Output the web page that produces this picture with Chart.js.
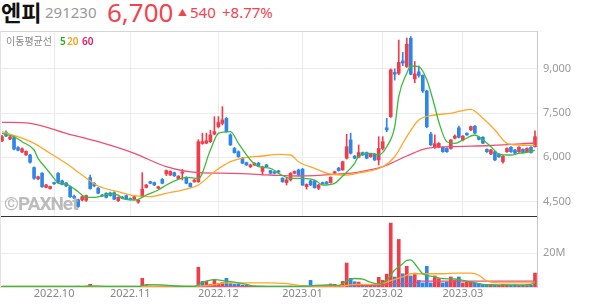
<!DOCTYPE html>
<html lang="ko">
<head>
<meta charset="utf-8">
<title>엔피 291230</title>
<script src="https://cdn.jsdelivr.net/npm/chart.js@4.4.0/dist/chart.umd.min.js"></script>
<style>
  body { margin: 0; width: 594px; height: 304px; background: #fff; overflow: hidden; position: relative; font-family: "Noto Sans", "Noto Sans CJK KR", sans-serif; }
  .abs { position: absolute; white-space: nowrap; line-height: 1; }
  #name { left: 1px; top: 0px; font-size: 22px; font-weight: 700; color: #111; font-family: "Noto Sans CJK KR", sans-serif; }
  #code { left: 45px; top: 5px; font-size: 15px; color: #999; }
  #price { left: 107px; top: -1px; font-size: 26px; color: #f0454f; }
  #tri { left: 178px; top: 8px; font-size: 9px; color: #f0454f; }
  #chg { left: 190px; top: 5px; font-size: 15px; color: #f0454f; }
  #chgPct { left: 222px; top: 5px; font-size: 15px; color: #f0454f; }
  #topline { position: absolute; left: 0; top: 31px; width: 537px; height: 0; border-top: 1px solid #d6d6d6; }
  #leftline { position: absolute; left: 0; top: 31px; width: 0; height: 256px; border-left: 1px solid #e2e2e2; }
  #maLabel { left: 6px; top: 36px; font-size: 10px; color: #888; font-family: "Noto Sans CJK KR", sans-serif; }
  .maNum { top: 36px; font-size: 10px; font-weight: 600; }
  #wm { left: 4px; top: 194px; font-size: 19px; font-weight: 700; letter-spacing: -1px; color: rgba(165, 165, 165, 0.75); font-family: Roboto, sans-serif; z-index: 5; }
  #price-chart { position: absolute; left: 0; top: 31px; }
  #volume-chart { position: absolute; left: 0; top: 217px; }
</style>
</head>
<body>
<div class="abs" id="name">엔피</div>
<div class="abs" id="code">291230</div>
<div class="abs" id="price">6,700</div>
<div class="abs" id="tri">▲</div>
<div class="abs" id="chg">540</div>
<div class="abs" id="chgPct">+8.77%</div>

<canvas id="price-chart" width="594" height="186"></canvas>
<canvas id="volume-chart" width="594" height="87"></canvas>
<div id="topline"></div>
<div id="leftline"></div>

<div class="abs" id="maLabel">이동평균선</div>
<div class="abs maNum" style="left:60px;color:#22b022">5</div>
<div class="abs maNum" style="left:67px;color:#f5a21c">20</div>
<div class="abs maNum" style="left:82px;color:#e8195c">60</div>
<div class="abs" id="wm">©PAXNet</div>

<script>
// trading days shown on the chart
const dates = [
  "2022.09.14", "2022.09.15", "2022.09.16", "2022.09.19", "2022.09.20", "2022.09.21", "2022.09.22", "2022.09.23", "2022.09.26", "2022.09.27", "2022.09.28", "2022.09.29", "2022.09.30",
  "2022.10.04", "2022.10.05", "2022.10.06", "2022.10.07", "2022.10.11", "2022.10.12", "2022.10.13", "2022.10.14", "2022.10.17", "2022.10.18", "2022.10.19", "2022.10.20", "2022.10.21", "2022.10.24", "2022.10.25", "2022.10.26", "2022.10.27", "2022.10.28", "2022.10.31",
  "2022.11.01", "2022.11.02", "2022.11.03", "2022.11.04", "2022.11.07", "2022.11.08", "2022.11.09", "2022.11.10", "2022.11.11", "2022.11.14", "2022.11.15", "2022.11.16", "2022.11.17", "2022.11.18", "2022.11.21", "2022.11.22", "2022.11.23", "2022.11.24", "2022.11.25", "2022.11.28", "2022.11.29", "2022.11.30",
  "2022.12.01", "2022.12.02", "2022.12.05", "2022.12.06", "2022.12.07", "2022.12.08", "2022.12.09", "2022.12.12", "2022.12.13", "2022.12.14", "2022.12.15", "2022.12.16", "2022.12.19", "2022.12.20", "2022.12.21", "2022.12.22", "2022.12.23", "2022.12.26", "2022.12.27", "2022.12.28", "2022.12.29",
  "2023.01.02", "2023.01.03", "2023.01.04", "2023.01.05", "2023.01.06", "2023.01.09", "2023.01.10", "2023.01.11", "2023.01.12", "2023.01.13", "2023.01.16", "2023.01.17", "2023.01.18", "2023.01.19", "2023.01.20", "2023.01.25", "2023.01.26", "2023.01.27", "2023.01.30", "2023.01.31",
  "2023.02.01", "2023.02.02", "2023.02.03", "2023.02.06", "2023.02.07", "2023.02.08", "2023.02.09", "2023.02.10", "2023.02.13", "2023.02.14", "2023.02.15", "2023.02.16", "2023.02.17", "2023.02.20", "2023.02.21", "2023.02.22", "2023.02.23", "2023.02.24", "2023.02.27", "2023.02.28",
  "2023.03.02", "2023.03.03", "2023.03.06", "2023.03.07", "2023.03.08", "2023.03.09", "2023.03.10", "2023.03.13", "2023.03.14", "2023.03.15", "2023.03.16", "2023.03.17", "2023.03.20", "2023.03.21", "2023.03.22", "2023.03.23", "2023.03.24", "2023.03.27", "2023.03.28"
];

const monthLabels = ["2022.10", "2022.11", "2022.12", "2023.01", "2023.02", "2023.03"];
const priceTicks = [4500, 6000, 7500, 9000];
const volumeTicks = [20]; // millions

// daily candles (won)
const opens = [
  6560, 6850, 6620, 6670, 6330, 6180, 6080, 6080, 5650, 5270, 5460, 4980, 4940,
  5140, 5450, 5200, 5130, 5000, 4680, 4560, 4550, 4540, 5310, 5120, 4950, 4720, 4780, 4790, 4800, 4530, 4650, 4700,
  4600, 4580, 4480, 4690, 4980, 5170, 5140, 4950, 5250, 5440, 5400, 5480, 5280, 5460, 5320, 5120, 5170, 5170, 6470, 6480, 6530, 6790,
  7040, 7150, 7320, 6760, 6300, 6190, 5970, 5820, 5680, 5740, 5800, 5520, 5740, 5550, 5510, 5540, 5290, 5140, 5230, 5460, 5570,
  5600, 5000, 5200, 5200, 4950, 5140, 5160, 5140, 5460, 5630, 5570, 5970, 6590, 6040, 6000, 6160, 6160, 6020, 6110, 5910,
  6300, 7000, 7380, 8880, 8850, 9270, 9080, 10040, 8660, 8900, 8780, 8250, 6790, 6360, 6360, 6340, 6300, 6300, 6650, 7000,
  6590, 6820, 6930, 7060, 6680, 6680, 6270, 6110, 6190, 6110, 5850, 6190, 6340, 6250, 6190, 6270, 6190, 6340, 6360
];
const highs = [
  6750, 6900, 6720, 6700, 6360, 6320, 6220, 6100, 5680, 5360, 5480, 5080, 5020,
  5160, 5480, 5230, 5150, 5020, 4720, 4580, 4680, 4720, 5400, 5140, 4980, 4740, 4800, 4820, 4830, 4660, 4670, 4720,
  4620, 4700, 4560, 5480, 5080, 5190, 5160, 5020, 5280, 5570, 5540, 5500, 5380, 5590, 5340, 5130, 5250, 6600, 6820, 6820, 6920, 7380,
  7380, 7720, 7350, 6800, 6340, 6220, 6000, 5840, 5770, 5820, 5830, 5700, 5760, 5560, 5520, 5560, 5310, 5320, 5480, 5540, 5600,
  5620, 5100, 5230, 5220, 5080, 5160, 5180, 5340, 5530, 5660, 5870, 6780, 6820, 6060, 6420, 6180, 6180, 6120, 6130, 6700,
  6700, 7320, 9000, 9000, 9980, 9560, 10050, 10100, 9250, 9100, 8800, 8280, 6850, 6760, 6500, 6360, 6330, 6600, 6760, 7060,
  6740, 6830, 7060, 7080, 6700, 6700, 6290, 6270, 6210, 6130, 6060, 6320, 6360, 6270, 6360, 6290, 6320, 6360, 6900
];
const lows = [
  6530, 6700, 6600, 6250, 6220, 6160, 6060, 5800, 5250, 5240, 4980, 4960, 4920,
  5080, 5130, 5060, 5000, 4640, 4600, 4300, 4520, 4500, 4920, 5000, 4760, 4670, 4620, 4680, 4560, 4500, 4590, 4570,
  4550, 4560, 4440, 4660, 4960, 5100, 5040, 4930, 5100, 5380, 5380, 5350, 5260, 5230, 5100, 4990, 5150, 5150, 6440, 6460, 6500, 6760,
  7000, 7100, 6850, 6400, 6140, 6000, 5780, 5720, 5650, 5720, 5700, 5400, 5660, 5440, 5440, 5480, 5150, 5060, 5200, 5440, 5380,
  5040, 4920, 5040, 4950, 4900, 5090, 5090, 5120, 5440, 5530, 5560, 5940, 6110, 5950, 5980, 6060, 5950, 6000, 5890, 5740,
  6250, 6870, 7350, 8620, 8800, 9110, 9050, 8800, 8530, 8720, 8200, 7000, 6400, 6300, 6320, 6170, 6170, 6280, 6620, 6660,
  6560, 6740, 6900, 6800, 6590, 6460, 6170, 6090, 5890, 6000, 5800, 6170, 6170, 6120, 6170, 6140, 6170, 6140, 6340
];
const closes = [
  6700, 6720, 6690, 6280, 6240, 6290, 6200, 5830, 5290, 5340, 5000, 5060, 5010,
  5100, 5150, 5080, 5030, 4660, 4620, 4330, 4660, 4700, 4940, 5030, 4780, 4690, 4640, 4700, 4580, 4640, 4610, 4590,
  4560, 4660, 4550, 4920, 5060, 5120, 5060, 5000, 5120, 5550, 5520, 5370, 5360, 5480, 5120, 5000, 5230, 6530, 6530, 6560, 6760, 6870,
  7180, 7270, 6870, 6420, 6160, 6020, 5800, 5740, 5740, 5800, 5720, 5680, 5680, 5460, 5460, 5500, 5170, 5230, 5460, 5520, 5400,
  5060, 5080, 5060, 4970, 5060, 5100, 5110, 5320, 5510, 5550, 5850, 6360, 6140, 5970, 6160, 6080, 5970, 6100, 5910, 6300,
  6530, 6930, 8970, 8820, 9220, 9200, 9840, 8820, 8830, 8780, 8250, 7040, 6420, 6460, 6470, 6190, 6190, 6590, 6720, 6680,
  6720, 6760, 7040, 6820, 6610, 6480, 6190, 6250, 5910, 6020, 6040, 6300, 6190, 6140, 6340, 6160, 6300, 6160, 6700
];

// daily volume, millions of shares
const volumes = [
  0.3, 0.3, 0.2, 0.4, 0.3, 0.2, 0.2, 0.3, 0.4, 0.3, 0.4, 0.3, 0.2,
  0.2, 0.3, 0.2, 0.2, 0.4, 0.3, 0.5, 0.4, 0.3, 1.6, 0.4, 0.3, 0.2, 0.2, 0.2, 0.3, 0.2, 0.2, 0.2,
  0.2, 0.2, 0.3, 5.1, 1.0, 0.6, 0.4, 0.3, 0.5, 0.8, 0.5, 0.4, 0.3, 0.4, 0.3, 0.3, 0.3, 11.6, 3.3, 3.3, 1.5, 4.5,
  2.0, 2.6, 5.1, 2.0, 1.6, 1.8, 1.1, 1.0, 0.8, 0.6, 0.5, 0.5, 0.4, 0.4, 0.3, 0.3, 0.4, 0.4, 0.5, 0.3, 0.4,
  0.6, 0.5, 3.9, 0.5, 0.4, 0.3, 0.3, 1.8, 1.6, 0.6, 3.3, 14.1, 5.1, 3.1, 2.9, 1.2, 1.0, 1.0, 0.9, 5.7,
  3.9, 7.6, 37.6, 5.9, 28.0, 7.8, 12.2, 6.5, 8.2, 3.9, 2.4, 12.2, 2.4, 6.5, 4.9, 2.4, 2.9, 5.9, 3.9, 5.9,
  2.4, 2.9, 3.1, 2.4, 2.0, 1.4, 1.2, 1.6, 1.2, 1.0, 1.4, 1.2, 1.0, 1.2, 0.9, 1.0, 0.9, 1.0, 8.2
];

// moving average lines: [day index, value]
const ma5Points = [
  [0, 6815], [3, 6699], [5, 6529], [8, 6248], [9, 5966], [11, 5627], [13, 5287], [14, 5118], [16, 5094], [17, 5026],
  [19, 4832], [21, 4642], [23, 4642], [25, 4687], [27, 4754], [29, 4720], [30, 4608], [33, 4551], [34, 4575], [36, 4720],
  [39, 4890], [41, 5060], [44, 5253], [46, 5321], [49, 5280], [52, 6248], [54, 6815], [57, 6869], [59, 6475], [62, 5908],
  [64, 5681], [67, 5627], [69, 5457], [72, 5287], [75, 5287], [78, 5230], [80, 5060], [83, 5118], [85, 5365], [88, 5796],
  [89, 6040], [92, 6136], [94, 6078], [96, 6360], [98, 7039], [99, 8057], [101, 8851], [102, 9099], [104, 9075], [106, 8630],
  [108, 7717], [109, 7198], [111, 6529], [113, 6475], [115, 6587], [118, 6757], [119, 6699], [122, 6360], [124, 6112], [127, 6078],
  [129, 6136], [132, 6190], [133, 6248]
];
const ma20Points = [
  [0, 6869], [4, 6699], [8, 6475], [12, 6136], [16, 5796], [20, 5399], [24, 5026], [29, 4832], [33, 4697], [37, 4663],
  [41, 4778], [45, 4890], [49, 5060], [53, 5511], [57, 5851], [61, 6000], [65, 6044], [69, 6102], [72, 6078], [74, 5851],
  [78, 5627], [82, 5433], [86, 5399], [89, 5470], [95, 5681], [98, 6020], [101, 6699], [104, 7266], [108, 7436], [112, 7493],
  [117, 7629], [120, 7324], [123, 6927], [126, 6475], [129, 6417], [133, 6400]
];
const ma60Points = [
  [0, 7188], [7, 7154], [16, 6815], [24, 6529], [33, 6136], [41, 5681], [49, 5477], [57, 5457], [67, 5400], [74, 5365],
  [84, 5433], [89, 5500], [95, 5681], [101, 6044], [106, 6305], [112, 6360], [122, 6400], [133, 6485]
];
const volMa5Points = [
  [0, 0.3], [20, 0.3], [22, 0.6], [26, 0.4], [34, 0.3], [36, 1.4], [40, 1.2], [43, 0.6], [46, 0.4], [48, 0.4],
  [50, 2.7], [53, 4.3], [56, 3.5], [58, 2.9], [61, 1.5], [63, 0.5], [70, 0.4], [76, 0.5], [78, 0.9], [81, 1.2],
  [84, 1.0], [86, 3.5], [88, 5.0], [90, 4.6], [92, 2.8], [94, 1.8], [96, 4.0], [98, 10.0], [100, 13.7], [101, 15.7],
  [102, 16.0], [103, 13.7], [105, 7.8], [106, 6.9], [108, 5.9], [110, 4.9], [113, 4.7], [115, 3.9], [117, 2.9], [120, 1.6],
  [124, 1.2], [128, 1.2], [132, 1.6], [133, 2.4]
];
const volMa20Points = [
  [0, 0.3], [34, 0.3], [40, 0.6], [49, 0.5], [53, 1.4], [56, 2.4], [66, 2.4], [71, 2.0], [74, 1.0], [78, 0.5],
  [85, 0.6], [88, 1.6], [94, 1.6], [96, 2.9], [100, 5.9], [102, 7.8], [110, 7.8], [114, 8.2], [117, 8.2], [119, 6.9],
  [121, 3.5], [125, 2.4], [132, 2.4], [133, 2.9]
];
const volMa60Points = [
  [0, 0.2], [78, 0.3], [80, 0.8], [95, 0.8], [96, 2.0], [103, 2.0], [104, 3.5], [133, 3.5]
];

const RED = "#f03c4b";
const BLUE = "#2e86e8";
const GREEN = "#3cba3c";
const ORANGE = "#ffa726";
const PINK = "#ef4f72";

//helpers

function sparse(points) {
  let arr = new Array(dates.length).fill(null);
  points.forEach(([i, v]) => (arr[i] = v));
  return arr;
}

function maLine(points, color) {
  return {
    type: "line",
    data: sparse(points),
    borderColor: color,
    borderWidth: 1.3,
    pointRadius: 0,
    spanGaps: true,
    cubicInterpolationMode: "monotone",
    order: 0,
  };
}

const monthIdx = monthLabels.map((m) => dates.findIndex((d) => d.startsWith(m)));

const candleColors = dates.map((d, i) => (closes[i] >= opens[i] ? RED : BLUE));
const volumeColors = dates.map((d, i) => {
  let prev = i === 0 ? opens[0] : closes[i - 1];
  return closes[i] > prev ? RED : BLUE;
});

function monthGrid(ctx) {
  return monthIdx.includes(ctx.index) ? "#ebebeb" : "rgba(0,0,0,0)";
}

// y axis sits right of the plot, fixed width, no extra label padding
function fixY(scale) {
  scale.width = 57;
  scale.paddingTop = 0;
  scale.paddingBottom = 0;
}

function noPadX(scale) {
  scale.paddingLeft = 0;
  scale.paddingRight = 0;
}

//Render Charts

new Chart(document.getElementById("price-chart"), {
  type: "bar",
  data: {
    labels: dates,
    datasets: [
      maLine(ma5Points, GREEN),
      maLine(ma20Points, ORANGE),
      maLine(ma60Points, PINK),
      {
        data: dates.map((d, i) => [opens[i], closes[i]]),
        backgroundColor: candleColors,
        barThickness: 3,
        minBarLength: 1,
        grouped: false,
        order: 1,
      },
      {
        data: dates.map((d, i) => [lows[i], highs[i]]),
        backgroundColor: candleColors,
        barThickness: 1,
        grouped: false,
        order: 2,
      },
    ],
  },
  options: {
    responsive: false,
    animation: false,
    layout: { padding: 0 },
    plugins: { legend: { display: false }, tooltip: { enabled: false } },
    scales: {
      x: {
        offset: true,
        afterFit: (scale) => {
          noPadX(scale);
          scale.height = 0;
        },
        grid: { offset: false, color: monthGrid, drawTicks: false },
        ticks: { display: false, autoSkip: false },
        border: { color: "#333", width: 1.5 },
      },
      y: {
        position: "right",
        min: 3974,
        max: 10287,
        afterFit: fixY,
        afterBuildTicks: (scale) => {
          scale.ticks = priceTicks.map((v) => ({ value: v }));
        },
        ticks: {
          color: "#999",
          font: { size: 11, family: "'Noto Sans', sans-serif" },
          padding: 6,
          callback: (v) => v.toLocaleString("en-US"),
        },
        grid: { color: "#ebebeb", drawTicks: false },
        border: { color: "#c8c8c8" },
      },
    },
  },
});

new Chart(document.getElementById("volume-chart"), {
  type: "bar",
  data: {
    labels: dates,
    datasets: [
      maLine(volMa5Points, GREEN),
      maLine(volMa20Points, ORANGE),
      maLine(volMa60Points, PINK),
      {
        data: volumes,
        backgroundColor: volumeColors,
        barThickness: 3,
        order: 1,
      },
    ],
  },
  options: {
    responsive: false,
    animation: false,
    layout: { padding: 0 },
    plugins: { legend: { display: false }, tooltip: { enabled: false } },
    scales: {
      x: {
        offset: true,
        afterFit: (scale) => {
          noPadX(scale);
          scale.height = 17;
        },
        grid: { offset: false, color: monthGrid, drawTicks: false },
        ticks: {
          autoSkip: false,
          maxRotation: 0,
          color: "#888",
          font: { size: 11, family: "'Noto Sans', sans-serif" },
          padding: 0,
          callback: (v, i) => {
            let k = monthIdx.indexOf(i);
            return k >= 0 ? monthLabels[k] : null;
          },
        },
        border: { color: "#dedede" },
      },
      y: {
        position: "right",
        min: 0,
        max: 41.2,
        afterFit: fixY,
        afterBuildTicks: (scale) => {
          scale.ticks = volumeTicks.map((v) => ({ value: v }));
        },
        ticks: {
          color: "#999",
          font: { size: 11, family: "'Noto Sans', sans-serif" },
          padding: 6,
          callback: (v) => v + "M",
        },
        grid: { color: "#ebebeb", drawTicks: false },
        border: { color: "#c8c8c8" },
      },
    },
  },
});
</script>
</body>
</html>
